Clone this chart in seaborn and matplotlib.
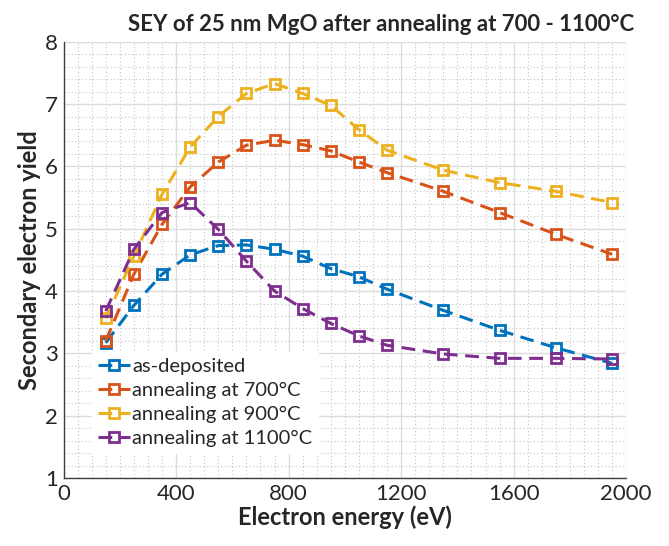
import numpy as np
import pandas as pd
import matplotlib
matplotlib.use('Agg')
import matplotlib.pyplot as plt
from matplotlib.ticker import MultipleLocator
import seaborn as sns

#### DATA

energy = [150, 250, 350, 450, 550, 650, 750, 850, 950, 1050, 1150, 1350, 1550, 1750, 1950]

sey_as_dep = [3.17, 3.77, 4.27, 4.58, 4.73, 4.74, 4.67, 4.56, 4.36, 4.23, 4.03, 3.69, 3.37, 3.09, 2.84]
sey_700 = [3.20, 4.27, 5.07, 5.67, 6.07, 6.34, 6.42, 6.35, 6.25, 6.07, 5.90, 5.60, 5.26, 4.91, 4.59]
sey_900 = [3.56, 4.56, 5.55, 6.31, 6.80, 7.17, 7.33, 7.17, 6.98, 6.59, 6.26, 5.94, 5.74, 5.60, 5.42]
sey_1100 = [3.68, 4.67, 5.26, 5.42, 4.99, 4.48, 4.00, 3.72, 3.48, 3.28, 3.13, 2.99, 2.92, 2.92, 2.91]

labels = ['as-deposited', 'annealing at 700°C', 'annealing at 900°C', 'annealing at 1100°C']
colors = ['#0072BD', '#D95319', '#EDB120', '#7E2F8E']

#### PLOT

sns.set_style("white")
plt.rcParams['font.family'] = ['Lato', 'DejaVu Sans']

fg = plt.figure(figsize=(6.69, 5.46), dpi=100)
ax = fg.add_axes([0.095, 0.1245, 0.841, 0.799])

for vals, lab, col in zip([sey_as_dep, sey_700, sey_900, sey_1100], labels, colors):
    df = pd.DataFrame({'energy': energy, 'sey': vals})
    sns.lineplot(data=df, x='energy', y='sey', ax=ax, color=col, label=lab,
                 linestyle='--', dashes=False, linewidth=2.2, marker='s', markersize=6.5,
                 markerfacecolor='none', markeredgecolor=col, markeredgewidth=2.0)
    ax.lines[-1].set_dashes([4.5, 2.5])

ax.set_xlim(0, 2000)
ax.set_ylim(1, 8)
ax.xaxis.set_major_locator(MultipleLocator(400))
ax.xaxis.set_minor_locator(MultipleLocator(50))
ax.yaxis.set_major_locator(MultipleLocator(1))
ax.yaxis.set_minor_locator(MultipleLocator(0.2))

ax.grid(which='major', color='#dcdcdc', linewidth=1.0, linestyle='-')
ax.grid(which='minor', color='#c4c4c4', linewidth=0.8, linestyle=(0, (1, 2.2)))
ax.set_axisbelow(True)

for s in ['top', 'right']:
    ax.spines[s].set_visible(False)
for s in ['left', 'bottom']:
    ax.spines[s].set_color('#404040')
    ax.spines[s].set_linewidth(1.0)

ax.tick_params(which='major', direction='in', length=5, width=1, color='#404040',
               labelsize=16, pad=4)
ax.tick_params(which='minor', length=0)

ax.set_xlabel('Electron energy (eV)', fontsize=17, fontweight='bold', labelpad=1)
ax.set_ylabel('Secondary electron yield', fontsize=17, fontweight='bold', labelpad=3)
ax.set_title('SEY of 25 nm MgO after annealing at 700 - 1100°C', fontsize=16,
             fontweight='bold', pad=8, x=0.565)

leg = ax.legend(loc='upper left', bbox_to_anchor=(0.05, 0.29), fontsize=14.5,
                frameon=True, fancybox=False, framealpha=1, edgecolor='white',
                handlelength=1.6, handletextpad=0.1, labelspacing=0.35, borderpad=0.3,
                borderaxespad=0)

plt.savefig('out.png', dpi=100)
